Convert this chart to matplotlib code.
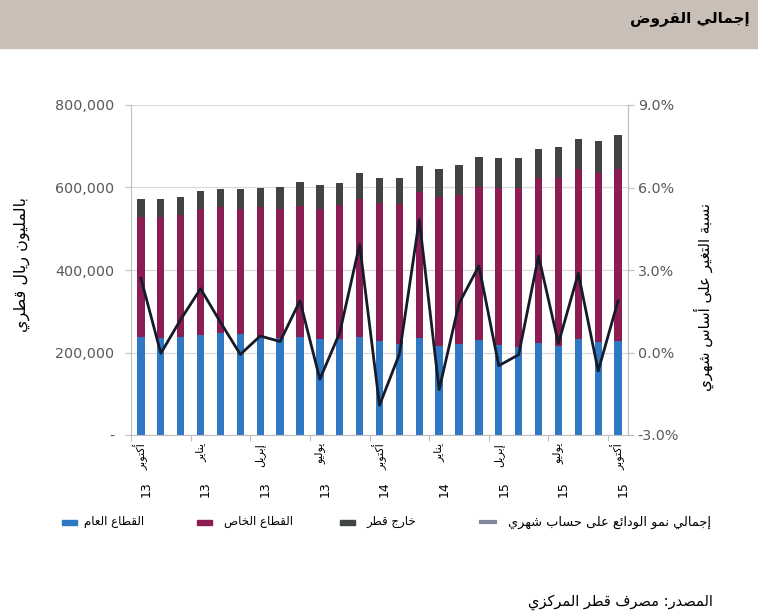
import re
import numpy as np
import matplotlib
matplotlib.use("Agg")
import matplotlib.pyplot as plt
from matplotlib.patches import Rectangle
from matplotlib.lines import Line2D
from matplotlib.ticker import FuncFormatter, MultipleLocator

plt.rcParams["font.family"] = ["DejaVu Sans"]

# ── Data (QAR million, Oct 2013 .. Oct 2015) ─────────────────────────
public_sector = [238, 236, 238, 243, 247, 245, 238, 236, 238, 232, 232, 238, 227,
                 220, 234, 215, 220, 230, 218, 213, 224, 215, 232, 225, 228]
private_sector = [290, 292, 296, 304, 306, 304, 315, 313, 318, 317, 326, 335, 335,
                  341, 355, 361, 363, 372, 380, 386, 398, 409, 412, 411, 416]
abroad = [43, 43, 44, 44, 44, 48, 45, 53, 57, 57, 53, 63, 60,
          61, 63, 68, 71, 73, 73, 72, 72, 74, 73, 77, 83]
public_sector = [v * 1000 for v in public_sector]
private_sector = [v * 1000 for v in private_sector]
abroad = [v * 1000 for v in abroad]
growth = [2.70, -0.03, 1.20, 2.32, 1.10, -0.07, 0.60, 0.40, 1.88, -0.97, 0.72, 3.93, -1.92,
          -0.06, 4.83, -1.35, 1.78, 3.15, -0.48, -0.08, 3.51, 0.33, 2.88, -0.67, 1.88]

label_pos = [0, 3, 6, 9, 12, 15, 18, 21, 24]
label_month = ["أكتوبر", "يناير", "إبريل", "يوليو", "أكتوبر", "يناير", "إبريل", "يوليو", "أكتوبر"]
label_year = ["13", "13", "13", "13", "14", "14", "15", "15", "15"]

series_names = ["القطاع العام", "القطاع الخاص", "خارج قطر", "إجمالي نمو الودائع على حساب شهري"]
title = "إجمالي القروض"
ylabel_left = "بالمليون ريال قطري"
ylabel_right = "نسبة التغير على أساس شهري"
source = "المصدر: مصرف قطر المركزي"

C_PUB, C_PRIV, C_ABR = "#2F78C4", "#8C1D52", "#404541"
C_LINE = "#161B2A"
GRID = "#D9D9D9"
TICK = "#595959"

# ── minimal Arabic shaping (matplotlib has no bidi / joining) ───────
DUAL = {"ب": 0xFE8F, "ت": 0xFE95, "ث": 0xFE99, "ج": 0xFE9D, "ح": 0xFEA1, "خ": 0xFEA5,
        "س": 0xFEB1, "ش": 0xFEB5, "ص": 0xFEB9, "ض": 0xFEBD, "ط": 0xFEC1, "ظ": 0xFEC5,
        "ع": 0xFEC9, "غ": 0xFECD, "ف": 0xFED1, "ق": 0xFED5, "ك": 0xFED9, "ل": 0xFEDD,
        "م": 0xFEE1, "ن": 0xFEE5, "ه": 0xFEE9, "ي": 0xFEF1, "ئ": 0xFE89}
RIGHT = {"آ": 0xFE81, "أ": 0xFE83, "ؤ": 0xFE85, "إ": 0xFE87, "ا": 0xFE8D, "ة": 0xFE93,
         "د": 0xFEA9, "ذ": 0xFEAB, "ر": 0xFEAD, "ز": 0xFEAF, "و": 0xFEED, "ى": 0xFEEF}
LAM_ALEF = {"آ": 0xFEF5, "أ": 0xFEF7, "إ": 0xFEF9, "ا": 0xFEFB}


def ar(text):
    out = []
    i, n = 0, len(text)
    while i < n:
        c = text[i]
        link_prev = i > 0 and text[i - 1] in DUAL
        if c == "ل" and i + 1 < n and text[i + 1] in LAM_ALEF:
            out.append(chr(LAM_ALEF[text[i + 1]] + (1 if link_prev else 0)))
            i += 2
            continue
        nxt = text[i + 1] if i + 1 < n else ""
        if c in DUAL:
            link_next = nxt in DUAL or nxt in RIGHT
            code = DUAL[c] + (3 if link_prev and link_next else 1 if link_prev
                              else 2 if link_next else 0)
            out.append(chr(code))
        elif c in RIGHT:
            out.append(chr(RIGHT[c] + (1 if link_prev else 0)))
        else:
            out.append(c)
        i += 1
    vis = "".join(out)[::-1]
    return re.sub(r"[0-9][0-9.,%]*", lambda m: m.group()[::-1], vis)


# ── Figure ───────────────────────────────────────────────────────────
W, H = 758, 614
fig = plt.figure(figsize=(W / 100, H / 100), dpi=100)
fig.patches.append(Rectangle((0, 1 - 48 / H), 1, 48 / H, transform=fig.transFigure,
                             color="#C9BFB6", zorder=0))
fig.text(750 / W, 1 - 18 / H, ar(title), ha="right", va="center",
         fontsize=11, fontweight="bold", color="black")

ax = fig.add_axes([131 / W, 1 - 435 / H, 497 / W, 330 / H])
x = np.arange(len(public_sector))
bottom2 = np.array(public_sector)
bottom3 = bottom2 + np.array(private_sector)
w = 0.37
ax.bar(x, public_sector, w, color=C_PUB, zorder=2)
ax.bar(x, private_sector, w, bottom=bottom2, color=C_PRIV, zorder=2)
ax.bar(x, abroad, w, bottom=bottom3, color=C_ABR, zorder=2)

ax.set_xlim(-0.5, len(x) - 0.5)
ax.set_ylim(0, 800000)
ax.yaxis.set_major_locator(MultipleLocator(200000))
ax.yaxis.set_major_formatter(FuncFormatter(lambda v, p: "-" if v == 0 else f"{v:,.0f}"))
ax.grid(axis="y", color=GRID, lw=0.9, zorder=0)
ax.set_axisbelow(True)
ax.set_xticks(np.arange(-0.5, len(x), 3))
ax.set_xticklabels([])
ax.tick_params(axis="x", length=4, color="#BFBFBF")
ax.tick_params(axis="y", length=4, color="#BFBFBF", labelcolor=TICK, labelsize=10.3, pad=8)
for s in ["left", "bottom", "right"]:
    ax.spines[s].set_color("#BFBFBF")
ax.spines["top"].set_visible(False)

ax2 = ax.twinx()
ax2.plot(x, growth, color=C_LINE, lw=2, zorder=3)
ax2.set_ylim(-3, 9)
ax2.yaxis.set_major_locator(MultipleLocator(3))
ax2.yaxis.set_major_formatter(FuncFormatter(lambda v, p: f"{v:.1f}%"))
ax2.tick_params(axis="y", length=4, color="#BFBFBF", labelcolor=TICK, labelsize=10.3, pad=3)
ax2.spines["right"].set_color("#BFBFBF")
ax2.spines["left"].set_visible(False)
ax2.spines["top"].set_visible(False)
ax2.spines["bottom"].set_visible(False)

# category labels: month above, year below (rotated)
tr = ax.get_xaxis_transform()
for p, m, yr in zip(label_pos, label_month, label_year):
    ax.text(p, -0.024, ar(m), transform=tr, rotation=90, ha="center", va="top",
            fontsize=8, color="black")
    ax.text(p + 0.25, -0.139, yr, transform=tr, rotation=90, ha="center", va="top",
            fontsize=9, color="black")

# axis titles
fig.text(22 / W, 1 - 265 / H, ar(ylabel_left), rotation=90, ha="center", va="center",
         fontsize=11.5, color="black")
fig.text(704 / W, 1 - 297 / H, ar(ylabel_right), rotation=90, ha="center", va="center",
         fontsize=10.8, color="black")

# legend (right-to-left, drawn by hand)
ly = 1 - 522 / H
for (mx, txt_x), name, col in zip([(62, 84), (197, 224), (340, 366)], series_names[:3],
                                  [C_PUB, C_PRIV, C_ABR]):
    fig.patches.append(Rectangle((mx / W, ly - 2.5 / H), 15 / W, 5 / H,
                                 transform=fig.transFigure, color=col))
    fig.text(txt_x / W, ly, ar(name), ha="left", va="center", fontsize=8.5, color="black")
fig.lines.append(Line2D([481 / W, 495 / W], [ly, ly], transform=fig.transFigure,
                        color="#7E8799", lw=3))
fig.text(508 / W, ly, ar(series_names[3]), ha="left", va="center", fontsize=9.3, color="black")

fig.text(713 / W, 1 - 602 / H, ar(source), ha="right", va="center", fontsize=10.5, color="black")

fig.savefig("out.png", dpi=100)
